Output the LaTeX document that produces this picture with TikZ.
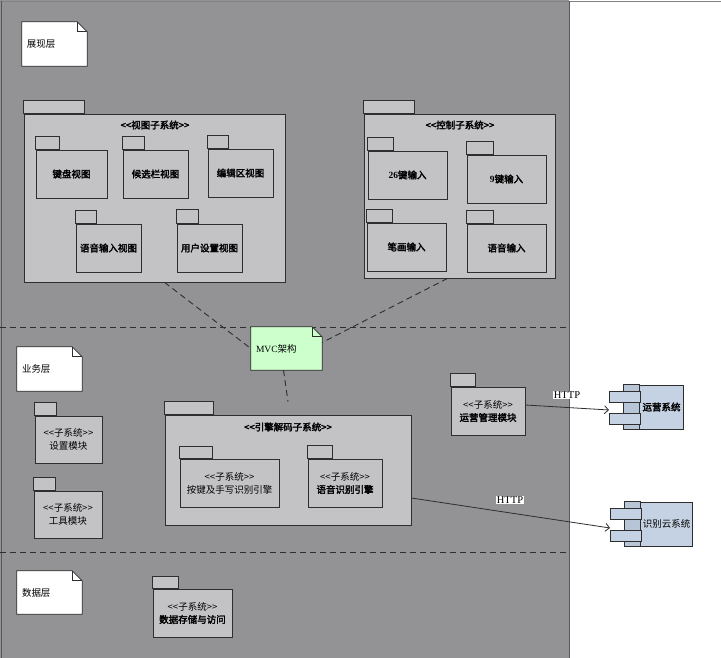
\documentclass[tikz,border=0pt]{standalone}
\usepackage{fontspec}
\setmainfont{Liberation Serif}
\newfontfamily\cjk[AutoFakeBold=2.5]{Noto Sans CJK SC}
\usetikzlibrary{arrows.meta,calc}
\definecolor{bggray}{HTML}{939295}
\definecolor{pkgfill}{HTML}{C3C2C5}
\definecolor{linec}{HTML}{2E2E2E}
\definecolor{mvcgreen}{HTML}{CCFFCC}
\definecolor{compblue}{HTML}{C5D2E3}
\definecolor{compstrip}{HTML}{B8C5D7}

\newcommand\pkgbox[8]{%
  \node[pkgbody, minimum width={(#4-#2)*1pt}, minimum height={(#5-#3)*1pt}] (#1) at ({(#2+#4)/2},{(#3+#5)/2}) {#8};
  \draw[pkgtab] (#1.north west) rectangle ++(#6,-#7);
}
\newcommand\notebox[7]{%
  \node[minimum width={(#4-#2)*1pt}, minimum height={(#5-#3)*1pt}] (#1) at ({(#2+#4)/2},{(#3+#5)/2}) {};
  \draw[noteline, fill=#6] (#1.north west) -- ([xshift=-10pt]#1.north east) -- ([yshift=-10pt]#1.north east) -- (#1.south east) -- (#1.south west) -- cycle;
  \draw[noteline] ([xshift=-10pt]#1.north east) |- ([yshift=-10pt]#1.north east);
  \node[anchor=west] (#1-text) at ([xshift=5pt]#1.west) {#7};
}
\newcommand\compbox[6]{%
  \node[comp, minimum width={(#4-#2)*1pt}, minimum height={(#5-#3)*1pt}] (#1) at ({(#2+#4)/2},{(#3+#5)/2}) {};
  \draw[comp, fill=compstrip] (#1.north west) rectangle ([xshift=16pt]#1.south west);
  \draw[comp] (#2-15,#3+6) rectangle (#2+16,#3+17);
  \draw[comp] (#2-15,#3+28) rectangle (#2+16,#3+39);
  \node (#1-text) at ({(#2+16+#4)/2},{(#3+#5)/2}) {#6};
}

\begin{document}
\begin{tikzpicture}[x=1pt,y=-1pt,
  every node/.style={font=\cjk\fontsize{9.5}{13}\selectfont, text=black, inner sep=0pt},
  pkgbody/.style={draw=linec, fill=pkgfill, line width=0.8pt, align=center},
  pkgtab/.style={draw=linec, fill=pkgfill, line width=0.8pt},
  noteline/.style={draw=linec, line width=0.8pt},
  comp/.style={draw=linec, fill=compblue, line width=0.8pt},
  layerline/.style={draw=linec, line width=0.9pt, dash pattern=on 6pt off 4pt},
  mvclink/.style={draw=linec, line width=0.9pt, dash pattern=on 6pt off 4pt},
  httplink/.style={draw=linec, line width=0.8pt, -{Straight Barb[length=4pt,width=8pt]}},
  httplabel/.style={fill=white, inner sep=0.6pt, font=\rmfamily\fontsize{10.5}{12}\selectfont}
]
\useasboundingbox (0,0) rectangle (721,658);
\fill[white] (0,0) rectangle (721,658);
\fill[bggray] (0,0) rectangle (569,658);
\draw[linec!60, line width=0.8pt] (0,1) -- (721,1);
\draw[linec!80, line width=0.8pt] (1,1) -- (1,658);
\draw[linec!80, line width=0.8pt] (569,1) -- (569,658);

% layer separators
\coordinate (l1a) at (0,327); \coordinate (l1b) at (569,327);
\coordinate (l2a) at (0,552); \coordinate (l2b) at (569,552);
\draw[layerline] (l1a) -- (l1b);
\draw[layerline] (l2a) -- (l2b);

% layer notes
\notebox{nview}{22}{22}{87}{66}{white}{展现层}
\notebox{nbiz}{17}{347}{82}{391}{white}{业务层}
\notebox{ndata}{17}{571}{82}{614}{white}{数据层}

% view subsystem
\pkgbox{view}{24}{114}{285}{282}{61}{13}{}
\node (viewlbl) at (155,125) {\bfseries <<视图子系统>>};
\pkgbox{kbview}{36}{150}{107}{198}{24}{13}{\bfseries 键盘视图}
\pkgbox{candview}{123}{150}{188}{198}{22}{13}{\bfseries 候选栏视图}
\pkgbox{editview}{208}{149}{273}{197}{21}{13}{\bfseries 编辑区视图}
\pkgbox{voiceview}{76}{224}{141}{272}{21}{13}{\bfseries 语音输入视图}
\pkgbox{userview}{177}{224}{242}{272}{22}{14}{\bfseries 用户设置视图}

% control subsystem
\pkgbox{ctrl}{364}{114}{555}{278}{51}{13}{}
\node (ctrllbl) at (460,125) {\bfseries <<控制子系统>>};
\pkgbox{in26}{368}{151}{447}{199}{26}{13}{\bfseries {\rmfamily 26}键输入}
\pkgbox{in9}{467}{155}{546}{203}{27}{13}{\bfseries {\rmfamily 9}键输入}
\pkgbox{stroke}{367}{223}{446}{271}{26}{13}{\bfseries 笔画输入}
\pkgbox{voicein}{467}{224}{546}{272}{27}{13}{\bfseries 语音输入}

% MVC note
\notebox{mvc}{251}{327}{322}{370}{mvcgreen}{{\rmfamily MVC}架构}

% business layer
\pkgbox{setmod}{35}{416}{102}{463}{22}{13}{<<子系统>>\\设置模块}
\pkgbox{toolmod}{34}{491}{102}{538}{22}{13}{<<子系统>>\\工具模块}
\pkgbox{eng}{165}{415}{411}{525}{49}{13}{}
\node (englbl) at (288,427) {\bfseries <<引擎解码子系统>>};
\pkgbox{keyeng}{180}{459}{279}{507}{33}{12}{<<子系统>>\\按键及手写识别引擎}
\pkgbox{voiceeng}{308}{459}{382}{507}{25}{13}{<<子系统>>\\\textbf{语音识别引擎}}
\pkgbox{ops}{451}{387}{525}{435}{25}{13}{<<子系统>>\\\textbf{运营管理模块}}

% data layer
\pkgbox{store}{153}{589}{232}{637}{26}{12}{<<子系统>>\\\textbf{数据存储与访问}}

% external components
\compbox{opsys}{624}{385}{683}{429}{\bfseries 运营系统}
\compbox{cloud}{625}{502}{692}{546}{识别云系统}
\coordinate (opsin) at (609,410);
\coordinate (cloudin) at (610,528);

% MVC links
\draw[mvclink] ([xshift=10pt]view.south) -- (mvc.west);
\draw[mvclink] ([xshift=-12pt]ctrl.south) -- ([yshift=6pt]mvc.east);
\draw[mvclink] ([xshift=-3pt]mvc.south) -- ([yshift=13pt]eng.north);

% HTTP links
\draw[httplink] ([yshift=6pt]ops.east) -- (opsin);
\node[httplabel] (http1) at (567,395) {HTTP};
\draw[httplink] ([yshift=-28pt]eng.east) -- (cloudin);
\node[httplabel] (http2) at (510,500) {HTTP};
\end{tikzpicture}
\end{document}
